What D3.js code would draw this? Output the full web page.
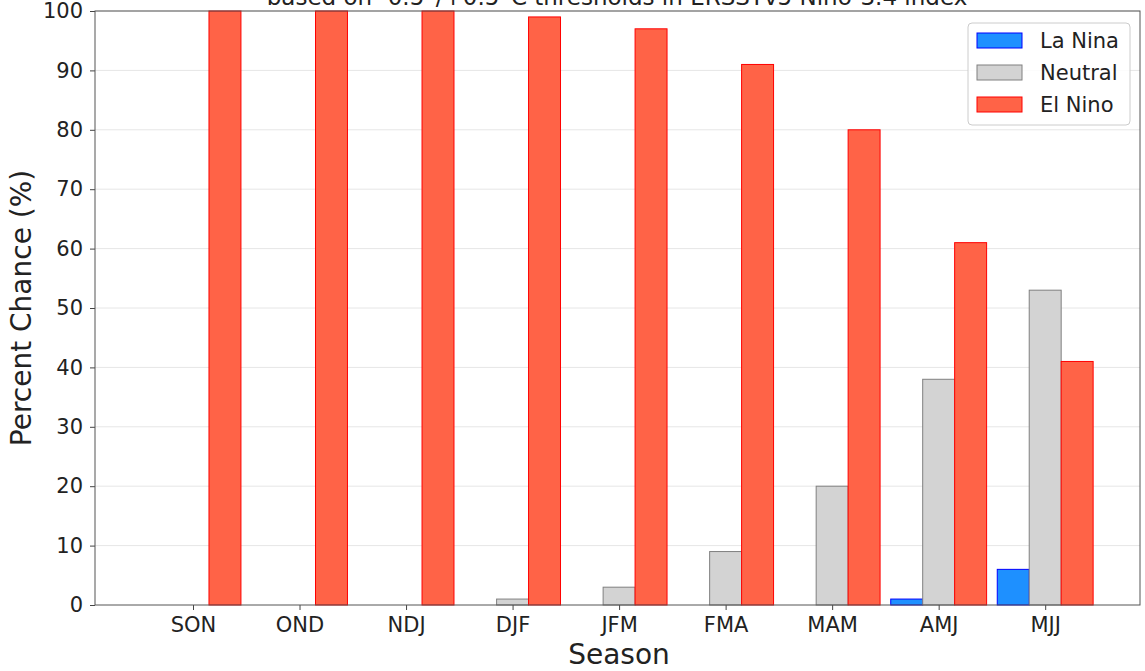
<!DOCTYPE html>
<html><head><meta charset="utf-8">
<script src="https://cdn.jsdelivr.net/npm/d3@7"></script>
<style>body{margin:0;background:#fff;font-family:"DejaVu Sans",sans-serif;}svg{display:block}</style>
</head><body>
<svg id="c" width="1145" height="671"></svg>
<script>
const seasons = ["SON","OND","NDJ","DJF","JFM","FMA","MAM","AMJ","MJJ"];
const laNina  = [0,0,0,0,0,0,0,1,6];
const neutral = [0,0,0,1,3,9,20,38,53];
const elNino  = [100,100,100,99,97,91,80,61,41];
const yTicks  = [0,10,20,30,40,50,60,70,80,90,100];
const seriesNames = ["La Nina","Neutral","El Nino"];
const fills = ["#1E90FF","#D3D3D3","#FF6347"];
const strokes = ["#0000FF","#808080","#FF0000"];
const titleText = "based on -0.5°/+0.5°C thresholds in ERSSTv5 Niño-3.4 index";

const svg = d3.select("#c");
const L=95, R=1140, T=11, B=605;
const x = d3.scaleLinear().domain([-0.92, 8.89]).range([L,R]);
const y = d3.scaleLinear().domain([0,100]).range([B,T]);
const bw = x(0.3)-x(0);

// grid
svg.append("g").selectAll("line").data(yTicks.slice(1)).join("line")
  .attr("x1",L).attr("x2",R).attr("y1",d=>y(d)).attr("y2",d=>y(d))
  .attr("stroke","#e6e6e6").attr("stroke-width",1);

const series=[laNina,neutral,elNino];
series.forEach((vals,si)=>{
  svg.append("g").selectAll("rect").data(vals).join("rect")
    .attr("x",(d,i)=>x(i+(si-1)*0.3-0.15))
    .attr("width",bw)
    .attr("y",d=>y(d))
    .attr("height",d=>y(0)-y(d))
    .attr("fill",fills[si]).attr("stroke",strokes[si]).attr("stroke-width",1);
});

// axes
const ya = svg.append("g").attr("transform",`translate(${L},0)`)
  .call(d3.axisLeft(y).tickValues(yTicks).tickSize(5).tickPadding(7));
const xa = svg.append("g").attr("transform",`translate(0,${B})`)
  .call(d3.axisBottom(x).tickValues(d3.range(seasons.length)).tickFormat(i=>seasons[i]).tickSize(5).tickPadding(7));
[ya,xa].forEach(a=>{
  a.select(".domain").remove();
  a.selectAll("line").attr("stroke","#444");
  a.selectAll("text").attr("font-family","DejaVu Sans").attr("font-size",21).attr("fill","#222");
});
// frame
svg.append("rect").attr("x",L).attr("y",T).attr("width",R-L).attr("height",B-T)
  .attr("fill","none").attr("stroke","#555").attr("stroke-width",1);

// labels
svg.append("text").attr("x",619).attr("y",664).attr("text-anchor","middle")
  .attr("font-size",28).attr("fill","#222").text("Season");
svg.append("text").attr("transform",`translate(31,${(T+B)/2}) rotate(-90)`).attr("text-anchor","middle")
  .attr("font-size",28).attr("fill","#222").text("Percent Chance (%)");
svg.append("text").attr("x",617).attr("y",5).attr("text-anchor","middle")
  .attr("font-size",23).attr("fill","#222").text(titleText);

// legend
const lg = svg.append("g").attr("transform","translate(968,23)");
lg.append("rect").attr("width",162).attr("height",102).attr("rx",4)
  .attr("fill","#fff").attr("fill-opacity",0.85).attr("stroke","#ccc");
seriesNames.forEach((n,i)=>{
  lg.append("rect").attr("x",9).attr("y",10+i*32).attr("width",45).attr("height",15)
    .attr("fill",fills[i]).attr("stroke",strokes[i]);
  lg.append("text").attr("x",72).attr("y",25+i*32).attr("font-size",21).attr("fill","#222").text(n);
});
</script>
</body></html>
